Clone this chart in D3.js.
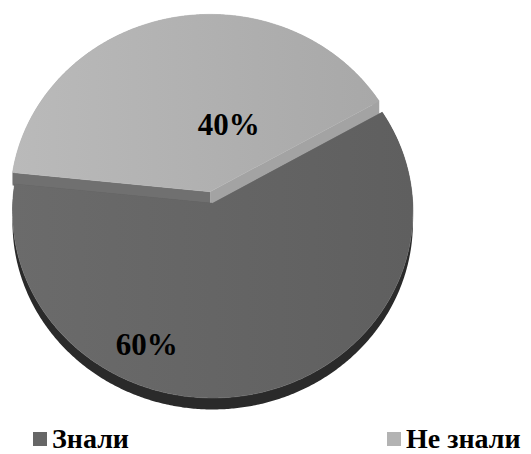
<!DOCTYPE html>
<html>
<head>
<meta charset="utf-8">
<script src="https://cdn.jsdelivr.net/npm/d3@7"></script>
<style>
  html, body { margin: 0; padding: 0; background: #ffffff; }
  svg { display: block; }
</style>
</head>
<body>
<svg id="chart" width="531" height="454"></svg>
<script>
// Survey answers
const categories = ["Знали", "Не знали"];
const values = [60, 40];

// Styling
const topColors = [["#6b6b6b", "#5f5f5f"], ["#bababa", "#a8a8a8"]];
const rimWall = ["#2a2a2a", "#9a9a9a"];
const startWall = ["#555555", "#707070"];
const endWall = ["#555555", "#a3a3a3"];
const legendColors = ["#666666", "#b3b3b3"];
const explode = [0, 0.064];
const wallDepth = [1, 1.2];
const serif = "Liberation Serif";

// Perspective view of the pie disk: u to the right, v away from the viewer
const view = { cx: 212.7, cy: 203.3, sx: 200, sy: 186.1, k: 0.044, depth: 11 };
function project(u, v, h) {
  const w = 1 + view.k * v;
  return [view.cx + view.sx * u / w, view.cy - view.sy * v / w + view.depth * h / w];
}

const rad = d => d * Math.PI / 180;
const pie = d3.pie().sort(null).startAngle(rad(60)).endAngle(rad(420));
const arcs = pie(values);

const svg = d3.select("#chart");
const defs = svg.append("defs");
topColors.forEach((c, i) => {
  const g = defs.append("linearGradient").attr("id", "top" + i)
    .attr("x1", "0%").attr("x2", "100%").attr("y1", "0%").attr("y2", "0%");
  g.append("stop").attr("offset", "0%").attr("stop-color", c[0]);
  g.append("stop").attr("offset", "100%").attr("stop-color", c[1]);
});

const line = d3.line();
const step = rad(0.5);

function offsetOf(a, i) {
  const mid = (a.startAngle + a.endAngle) / 2;
  return [explode[i] * Math.sin(mid), explode[i] * Math.cos(mid)];
}
function rimPoints(a, off, h, reverse) {
  const pts = [];
  const n = Math.ceil((a.endAngle - a.startAngle) / step);
  for (let j = 0; j <= n; j++) {
    const t = a.startAngle + (a.endAngle - a.startAngle) * j / n;
    pts.push(project(off[0] + Math.sin(t), off[1] + Math.cos(t), h));
  }
  return reverse ? pts.reverse() : pts;
}
function radialWall(off, ang, h) {
  return [
    project(off[0], off[1], 0),
    project(off[0] + Math.sin(ang), off[1] + Math.cos(ang), 0),
    project(off[0] + Math.sin(ang), off[1] + Math.cos(ang), h),
    project(off[0], off[1], h)
  ];
}

// Back slice first, front slice over it
const order = [1, 0];
order.forEach(i => {
  const a = arcs[i];
  const off = offsetOf(a, i);
  const h = wallDepth[i];
  const g = svg.append("g").attr("class", "slice");
  // outer rim wall
  g.append("path")
    .attr("d", line(rimPoints(a, off, 0, false).concat(rimPoints(a, off, h, true))) + "Z")
    .attr("fill", rimWall[i]);
  // radial walls
  g.append("path").attr("d", line(radialWall(off, a.startAngle, h)) + "Z").attr("fill", startWall[i]);
  g.append("path").attr("d", line(radialWall(off, a.endAngle, h)) + "Z").attr("fill", endWall[i]);
  // top face
  const topPts = [project(off[0], off[1], 0)].concat(rimPoints(a, off, 0, false));
  g.append("path").attr("d", line(topPts) + "Z")
    .attr("fill", "url(#top" + i + ")")
    .attr("stroke", "url(#top" + i + ")").attr("stroke-width", 0.6);
});

// Percent labels placed on the slices (angle in degrees, radius as share of pie radius)
const labelPlace = [{ angle: 203.5, r: 0.8 }, { angle: 14.4, r: 0.38 }];
const total = d3.sum(values);
arcs.forEach((a, i) => {
  const off = offsetOf(a, i);
  const p = labelPlace[i];
  const [x, y] = project(off[0] + p.r * Math.sin(rad(p.angle)), off[1] + p.r * Math.cos(rad(p.angle)), 0);
  svg.append("text")
    .attr("x", x).attr("y", y).attr("dy", "0.35em")
    .attr("text-anchor", "middle")
    .attr("font-family", serif)
    .attr("font-weight", "bold").attr("font-size", 31).attr("fill", "#000")
    .text(Math.round(a.value / total * 100) + "%");
});

// Legend
const legendX = d3.scalePoint().domain(categories).range([33, 387]);
const legend = svg.append("g").attr("class", "legend");
categories.forEach((c, i) => {
  const x = legendX(c);
  legend.append("rect").attr("x", x).attr("y", 432).attr("width", 14).attr("height", 14)
    .attr("fill", legendColors[i]);
  legend.append("text").attr("x", x + 19).attr("y", 448)
    .attr("font-family", serif)
    .attr("font-weight", "bold").attr("font-size", 28).attr("fill", "#000")
    .text(c);
});
</script>
</body>
</html>
